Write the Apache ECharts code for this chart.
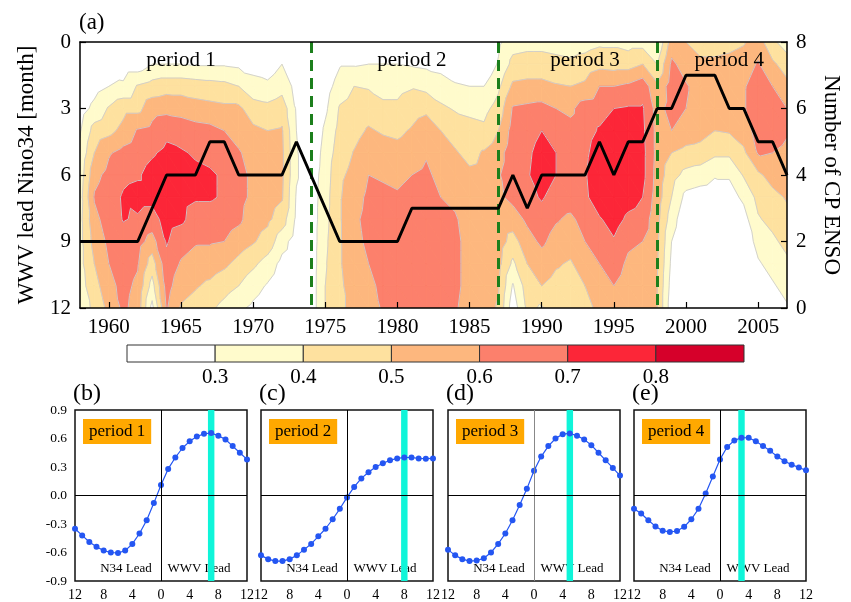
<!DOCTYPE html>
<html><head><meta charset="utf-8">
<script src="https://cdn.jsdelivr.net/npm/echarts@6/dist/echarts.min.js"></script>
<style>html,body{margin:0;padding:0;background:#fff}#c{width:851px;height:602px}</style>
</head><body><div id="c"></div>
<script>
// ---------------- data ----------------
const years = [1958,1959,1960,1961,1962,1963,1964,1965,1966,1967,1968,1969,1970,1971,1972,1973,1974,1975,1976,1977,1978,1979,1980,1981,1982,1983,1984,1985,1986,1987,1988,1989,1990,1991,1992,1993,1994,1995,1996,1997,1998,1999,2000,2001,2002,2003,2004,2005,2006,2007];
const leadMonths = [0,1,2,3,4,5,6,7,8,9,10,11,12];
// correlation, one row per year, values for lead 0..12 months
const corrByYear = [
 [.12,.15,.20,.25,.29,.32,.34,.36,.37,.37,.37,.36,.35],
 [.16,.21,.26,.33,.44,.50,.57,.61,.57,.54,.50,.46,.42],
 [.20,.25,.30,.41,.47,.59,.63,.66,.65,.62,.60,.57,.53],
 [.20,.24,.32,.47,.53,.63,.68,.71,.705,.67,.65,.63,.62],
 [.20,.24,.41,.47,.61,.66,.69,.73,.69,.64,.61,.58,.56],
 [.24,.30,.44,.56,.63,.69,.73,.73,.66,.56,.45,.36,.27],
 [.25,.30,.46,.57,.68,.72,.75,.76,.74,.71,.67,.64,.61],
 [.25,.30,.46,.56,.66,.71,.74,.73,.72,.64,.59,.54,.49],
 [.25,.29,.45,.54,.64,.69,.72,.71,.66,.61,.56,.51,.46],
 [.25,.29,.44,.53,.63,.68,.71,.71,.66,.61,.55,.48,.42],
 [.25,.29,.43,.52,.60,.65,.69,.69,.65,.60,.52,.44,.37],
 [.26,.28,.40,.52,.56,.61,.63,.63,.62,.55,.47,.40,.32],
 [.24,.27,.33,.45,.52,.56,.58,.58,.55,.51,.42,.34,.28],
 [.22,.25,.32,.43,.50,.55,.56,.55,.52,.46,.36,.29,.24],
 [.26,.30,.36,.46,.51,.52,.52,.51,.45,.34,.27,.23,.22],
 [.20,.22,.27,.29,.30,.31,.31,.29,.28,.25,.23,.22,.20],
 [.10,.12,.15,.18,.20,.22,.24,.24,.24,.24,.24,.24,.24],
 [.15,.20,.25,.28,.32,.34,.35,.36,.37,.38,.39,.40,.40],
 [.25,.29,.35,.41,.43,.45,.48,.49,.49,.49,.49,.48,.48],
 [.24,.29,.40,.44,.47,.505,.53,.56,.58,.57,.56,.55,.53],
 [.25,.30,.39,.46,.51,.55,.60,.62,.63,.62,.60,.58,.56],
 [.26,.30,.37,.42,.49,.54,.59,.62,.64,.64,.63,.62,.61],
 [.26,.30,.37,.42,.48,.53,.58,.61,.64,.65,.65,.64,.63],
 [.26,.29,.39,.46,.51,.55,.60,.63,.65,.66,.66,.65,.64],
 [.25,.28,.37,.48,.55,.59,.62,.64,.65,.66,.66,.65,.64],
 [.22,.27,.34,.42,.50,.54,.57,.60,.63,.64,.64,.63,.62],
 [.20,.25,.31,.39,.46,.51,.55,.58,.61,.62,.62,.62,.61],
 [.18,.22,.30,.38,.43,.47,.52,.54,.56,.57,.57,.57,.56],
 [.18,.22,.30,.37,.42,.51,.53,.55,.56,.56,.56,.55,.54],
 [.28,.31,.38,.44,.50,.56,.59,.58,.57,.55,.53,.51,.49],
 [.36,.43,.52,.61,.64,.66,.66,.63,.55,.46,.38,.29,.24],
 [.37,.44,.53,.62,.65,.68,.69,.67,.62,.56,.50,.45,.42],
 [.37,.44,.53,.63,.70,.74,.75,.71,.66,.62,.55,.50,.39],
 [.36,.43,.51,.60,.66,.70,.70,.66,.61,.56,.51,.47,.44],
 [.35,.42,.50,.58,.63,.66,.67,.65,.58,.54,.49,.46,.43],
 [.36,.44,.52,.65,.66,.68,.69,.68,.64,.60,.55,.50,.46],
 [.38,.47,.60,.66,.71,.75,.77,.76,.69,.65,.60,.56,.53],
 [.38,.46,.60,.70,.75,.78,.79,.78,.74,.69,.65,.60,.55],
 [.36,.46,.62,.71,.74,.76,.77,.74,.68,.62,.58,.55,.52],
 [.36,.50,.66,.71,.72,.73,.73,.70,.66,.60,.56,.54,.52],
 [.30,.40,.52,.56,.57,.57,.56,.55,.53,.52,.51,.50,.50],
 [.55,.62,.65,.64,.60,.50,.44,.40,.35,.30,.28,.26,.24],
 [.50,.56,.61,.60,.56,.47,.37,.27,.22,.20,.20,.20,.20],
 [.46,.52,.56,.56,.54,.46,.35,.25,.20,.18,.18,.18,.19],
 [.46,.52,.56,.56,.50,.42,.31,.24,.20,.18,.18,.18,.19],
 [.47,.53,.57,.56,.51,.42,.31,.26,.22,.20,.20,.21,.22],
 [.49,.55,.59,.59,.55,.48,.41,.32,.26,.24,.24,.25,.26],
 [.55,.61,.65,.66,.64,.61,.48,.43,.39,.33,.29,.28,.28],
 [.42,.52,.60,.63,.64,.60,.54,.47,.43,.38,.33,.29,.27],
 [.35,.45,.53,.60,.61,.58,.55,.51,.47,.43,.38,.33,.29]
];
const cpCount = [2,2,2,2,2,3,4,4,4,5,5,4,4,4,4,5,4,3,2,2,2,2,2,3,3,3,3,3,3,3,4,3,4,4,4,4,5,4,5,5,6,6,7,7,7,6,6,5,5,4];
const breakYears = [1974,1987,1998];
const periodNames = ['period 1','period 2','period 3','period 4'];
const periodLabelYear = [1965,1981,1993,2003];
const periodLabelLead = [0.85,0.85,0.85,0.85];
const xTickYears = [1960,1965,1970,1975,1980,1985,1990,1995,2000,2005];

const levels = [0.3,0.4,0.5,0.6,0.7,0.8];
const levelColors = ['#FFFBCC','#FEE19F','#FDB77E','#FC806C','#FC2638','#D6002A'];
const colorbarEdges = [0.2,0.3,0.4,0.5,0.6,0.7,0.8,0.9];
const colorbarColors = ['#FFFFFF','#FFFBCC','#FEE19F','#FDB77E','#FC806C','#FC2638','#D6002A'];
const colorbarLabels = [0.3,0.4,0.5,0.6,0.7,0.8];

const lags = [-12,-11,-10,-9,-8,-7,-6,-5,-4,-3,-2,-1,0,1,2,3,4,5,6,7,8,9,10,11,12];
const corrP1 = [-0.35,-0.42,-0.49,-0.54,-0.58,-0.60,-0.605,-0.58,-0.51,-0.40,-0.26,-0.08,0.11,0.28,0.40,0.50,0.57,0.62,0.65,0.657,0.63,0.59,0.52,0.45,0.38];
const corrP2 = [-0.63,-0.67,-0.69,-0.69,-0.67,-0.63,-0.57,-0.51,-0.43,-0.35,-0.25,-0.14,-0.02,0.09,0.18,0.245,0.30,0.34,0.37,0.39,0.40,0.40,0.39,0.388,0.39];
const corrP3 = [-0.57,-0.63,-0.67,-0.69,-0.685,-0.66,-0.60,-0.51,-0.40,-0.26,-0.10,0.07,0.26,0.41,0.52,0.60,0.646,0.653,0.63,0.59,0.53,0.45,0.37,0.29,0.21];
const corrP4 = [-0.14,-0.19,-0.26,-0.325,-0.37,-0.384,-0.374,-0.33,-0.25,-0.14,0.02,0.20,0.38,0.51,0.58,0.608,0.608,0.57,0.52,0.47,0.41,0.36,0.325,0.294,0.266];
const peakLag = [7,8,5,3];
const panelNames = ['(b)','(c)','(d)','(e)'];

// ---------------- layout ----------------
const FONT = "'Liberation Serif','Times New Roman',serif";
const panelLeft = [75,261,448,634];
const panelTop = 410, panelSize = 172;

function coordGrid(api){
  return corrByYear.map((col,i)=>col.map((v,j)=>{const p=api.coord([years[i],leadMonths[j]]);return [p[0],p[1],v];}));
}
function triangles(api){
  const P = coordGrid(api), out=[];
  for(let i=0;i<years.length-1;i++)for(let j=0;j<leadMonths.length-1;j++){
    const a=P[i][j],b=P[i+1][j],c=P[i+1][j+1],d=P[i][j+1];
    out.push([a,b,c],[a,c,d]);
  }
  return out;
}
function clipAbove(tri,t){
  const out=[];
  for(let i=0;i<tri.length;i++){
    const a=tri[i],b=tri[(i+1)%tri.length];
    const ai=a[2]>=t, bi=b[2]>=t;
    if(ai) out.push([a[0],a[1]]);
    if(ai!==bi){const f=(t-a[2])/(b[2]-a[2]);out.push([a[0]+f*(b[0]-a[0]),a[1]+f*(b[1]-a[1])]);}
  }
  return out;
}
function crossing(tri,t){
  const pts=[];
  for(let i=0;i<3;i++){
    const a=tri[i],b=tri[(i+1)%3];
    if((a[2]>=t)!==(b[2]>=t)){const f=(t-a[2])/(b[2]-a[2]);pts.push([a[0]+f*(b[0]-a[0]),a[1]+f*(b[1]-a[1])]);}
  }
  return pts;
}

const series = [];
// filled contour bands
series.push({
  type:'custom', xAxisIndex:0, yAxisIndex:0, coordinateSystem:'cartesian2d', clip:true, silent:true, z:1,
  encode:{x:0,y:1},
  data: levels.map((t,k)=>[years[0],leadMonths[0],k]),
  renderItem(params, api){
    const k=api.value(2), t=levels[k], col=levelColors[k];
    const children=[];
    triangles(api).forEach(tri=>{
      if(tri[0][2]<t && tri[1][2]<t && tri[2][2]<t) return;
      const poly=clipAbove(tri,t);
      if(poly.length>=3) children.push({type:'polygon',shape:{points:poly},style:{fill:col,stroke:col,lineWidth:0.7}});
    });
    return {type:'group',children};
  }
});
// contour lines
series.push({
  type:'custom', xAxisIndex:0, yAxisIndex:0, coordinateSystem:'cartesian2d', clip:true, silent:true, z:2,
  encode:{x:0,y:1},
  data: levels.map((t,k)=>[years[0],leadMonths[0],k]),
  renderItem(params, api){
    const t=levels[api.value(2)];
    const children=[];
    triangles(api).forEach(tri=>{
      const p=crossing(tri,t);
      if(p.length===2) children.push({type:'line',shape:{x1:p[0][0],y1:p[0][1],x2:p[1][0],y2:p[1][1]},style:{stroke:'#cdcdcd',lineWidth:0.9}});
    });
    return {type:'group',children};
  }
});
// period break lines
series.push({
  type:'line', xAxisIndex:0, yAxisIndex:0, data:[], z:3, silent:true,
  markLine:{symbol:['none','none'], silent:true, label:{show:false}, animation:false,
    lineStyle:{color:'#1C7F1C', width:3, type:[11,7]},
    data: breakYears.map(y=>({xAxis:y}))}
});
// number of CP ENSO
series.push({
  type:'line', xAxisIndex:0, yAxisIndex:1, z:5, symbol:'none', silent:true,
  lineStyle:{color:'#000', width:3}, data: years.map((y,i)=>[y,cpCount[i]])
});
// period labels
series.push({
  type:'scatter', xAxisIndex:0, yAxisIndex:0, z:6, symbolSize:0, silent:true,
  itemStyle:{opacity:1},
  data: periodNames.map((n,i)=>({value:[periodLabelYear[i],periodLabelLead[i]], name:n})),
  label:{show:true, position:'inside', formatter:p=>p.name, fontFamily:FONT, fontSize:21, color:'#000', textBorderWidth:0, opacity:1}
});
// colorbar
series.push({
  type:'custom', xAxisIndex:2, yAxisIndex:2, coordinateSystem:'cartesian2d', silent:true,
  encode:{x:[0,1],y:2},
  data: colorbarColors.map((c,i)=>[colorbarEdges[i],colorbarEdges[i+1],0,i]),
  renderItem(params, api){
    const p0=api.coord([api.value(0),1]), p1=api.coord([api.value(1),0]);
    return {type:'rect',shape:{x:p0[0],y:p0[1],width:p1[0]-p0[0],height:p1[1]-p0[1]},
      style:{fill:colorbarColors[api.value(3)],stroke:'#333',lineWidth:1}};
  }
});
// lag-correlation panels
const panelData=[corrP1,corrP2,corrP3,corrP4];
panelData.forEach((vals,g)=>{
  series.push({
    type:'line', xAxisIndex:3+g, yAxisIndex:3+g, data:[], z:1, silent:true,
    markArea:{silent:true, itemStyle:{color:'#0FF5D9',opacity:1}, data:[[{xAxis:peakLag[g]-0.45},{xAxis:peakLag[g]+0.45}]]},
    markLine:{symbol:['none','none'], silent:true, label:{show:false}, animation:false,
      lineStyle:{color: g===2?'#888':'#000', width:1, type:'solid'},
      data:[{xAxis:0},{yAxis:0, lineStyle:{color:'#000'}}]}
  });
  series.push({
    type:'line', xAxisIndex:3+g, yAxisIndex:3+g, z:3, silent:true,
    symbol:'circle', symbolSize:6, showAllSymbol:true,
    lineStyle:{color:'#2456F2', width:1.2}, itemStyle:{color:'#2456F2'},
    data: lags.map((l,i)=>[l,vals[i]])
  });
});

const xAxis=[
  {gridIndex:0,type:'value',min:years[0],max:years[years.length-1],position:'bottom',z:10,
   axisLine:{show:true,onZero:false,lineStyle:{color:'#000',width:1.5}},
   axisTick:{show:true,inside:true,length:6,customValues:xTickYears,lineStyle:{color:'#000',width:1.2}},
   axisLabel:{customValues:xTickYears,formatter:v=>String(v),fontFamily:FONT,fontSize:21,color:'#000',margin:9},
   splitLine:{show:false}},
  {gridIndex:0,type:'value',min:years[0],max:years[years.length-1],position:'top',z:10,
   axisLine:{show:true,onZero:false,lineStyle:{color:'#000',width:1.5}},
   axisTick:{show:false},axisLabel:{show:false},splitLine:{show:false}},
  {gridIndex:1,type:'value',min:colorbarEdges[0],max:colorbarEdges[colorbarEdges.length-1],
   axisLine:{show:false},axisTick:{show:false},splitLine:{show:false},
   axisLabel:{customValues:colorbarLabels,formatter:v=>v.toFixed(1),fontFamily:FONT,fontSize:21,color:'#000',margin:5}}
];
const yAxis=[
  {gridIndex:0,type:'value',inverse:true,min:0,max:12,interval:3,position:'left',z:10,
   name:'WWV lead Nino34 [month]',nameLocation:'middle',nameGap:42,
   nameTextStyle:{fontFamily:FONT,fontSize:23,color:'#000'},
   axisLine:{show:true,onZero:false,lineStyle:{color:'#000',width:1.5}},
   axisTick:{show:true,inside:true,length:6,lineStyle:{color:'#000',width:1.2}},
   axisLabel:{fontFamily:FONT,fontSize:21,color:'#000',margin:9},splitLine:{show:false}},
  {gridIndex:0,type:'value',min:0,max:8,interval:2,position:'right',z:10,
   name:'Number of CP ENSO',nameLocation:'middle',nameGap:33,nameRotate:-90,
   nameTextStyle:{fontFamily:FONT,fontSize:23,color:'#000'},
   axisLine:{show:true,onZero:false,lineStyle:{color:'#000',width:1.5}},
   axisTick:{show:true,inside:true,length:6,lineStyle:{color:'#000',width:1.2}},
   axisLabel:{fontFamily:FONT,fontSize:21,color:'#000',margin:9},splitLine:{show:false}},
  {gridIndex:1,type:'value',min:0,max:1,show:false}
];
const grid=[
  {left:80,top:42,width:711,height:266},
  {left:127,top:345,width:617,height:17}
];
panelLeft.forEach((L,g)=>{
  grid.push({left:L,top:panelTop,width:panelSize,height:panelSize,show:true,borderColor:'#111',borderWidth:1.5,backgroundColor:'transparent'});
  xAxis.push({gridIndex:2+g,type:'value',min:-12,max:12,interval:4,
    axisLine:{show:false},axisTick:{show:false},splitLine:{show:false},
    axisLabel:{formatter:v=>String(Math.abs(v)),fontFamily:FONT,fontSize:14,color:'#000',margin:7,showMinLabel:true,showMaxLabel:true}});
  yAxis.push({gridIndex:2+g,type:'value',min:-0.9,max:0.9,interval:0.3,
    axisLine:{show:false},axisTick:{show:false},splitLine:{show:false},
    axisLabel:{show:g===0,formatter:v=>(Math.abs(v)<1e-9?0:v).toFixed(1),fontFamily:FONT,fontSize:13.5,color:'#000',margin:8}});
});

const graphic=[
  {type:'text',left:79,top:11,style:{text:'(a)',font:'23px '+FONT,fill:'#000'}}
];
panelLeft.forEach((L,g)=>{
  graphic.push({type:'text',left:L-2,top:382,style:{text:panelNames[g],font:'24px '+FONT,fill:'#000'}});
  graphic.push({type:'text',x:L+8,y:419,style:{text:periodNames[g],font:'17px '+FONT,fill:'#000',backgroundColor:'#FFA800',padding:[4,6,4,6]}});
  graphic.push({type:'text',x:L+51,y:569,style:{text:'N34 Lead',font:'13px '+FONT,fill:'#000',align:'center',verticalAlign:'middle'}});
  graphic.push({type:'text',x:L+124,y:569,style:{text:'WWV Lead',font:'13px '+FONT,fill:'#000',align:'center',verticalAlign:'middle'}});
});

const chart = echarts.init(document.getElementById('c'), null, {renderer:'canvas'});
chart.setOption({animation:false, backgroundColor:'#fff', grid, xAxis, yAxis, series, graphic});
</script></body></html>
